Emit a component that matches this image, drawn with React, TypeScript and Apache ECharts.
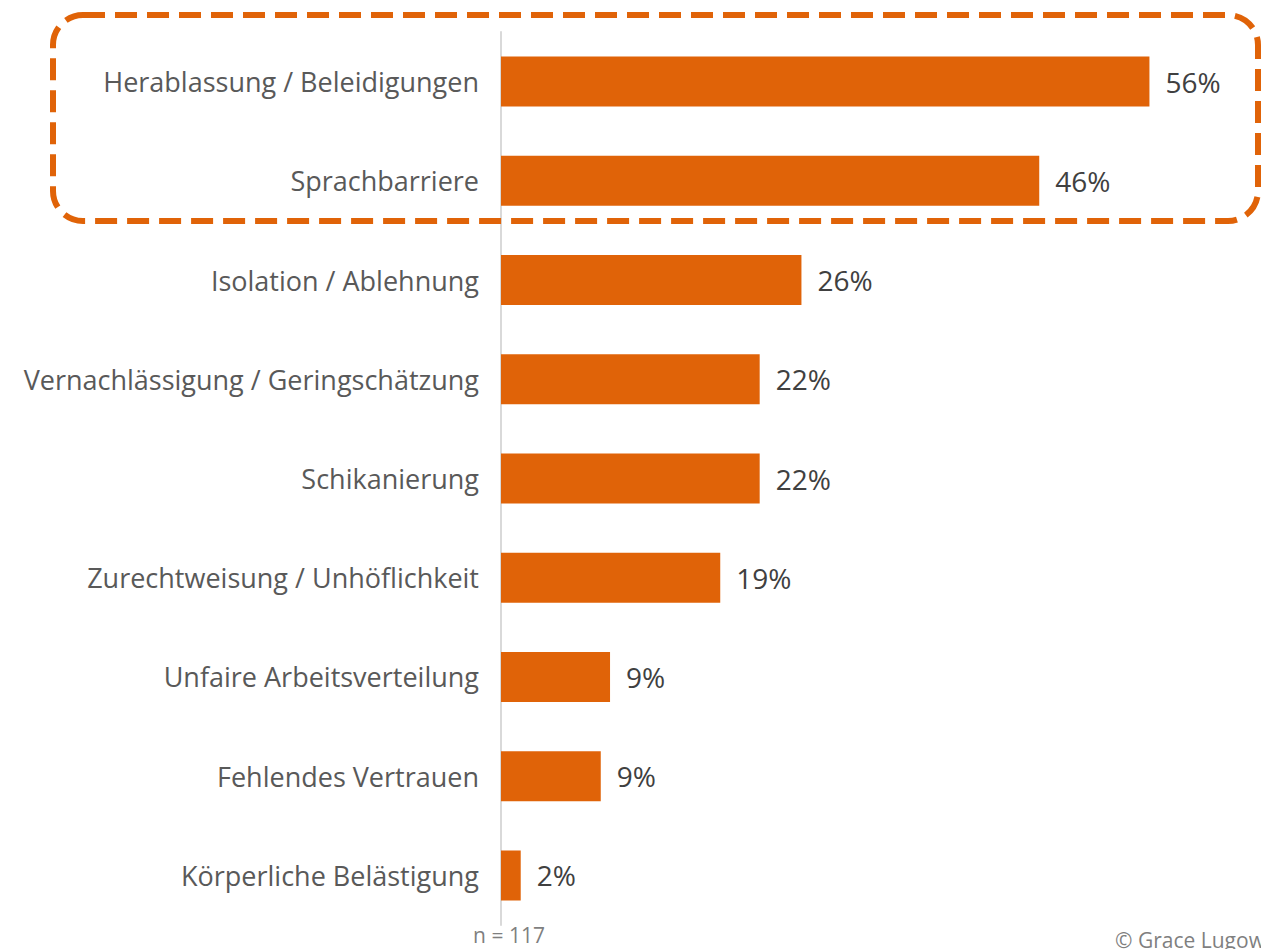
import React, { useEffect, useRef } from "react";
import * as echarts from "echarts";

const categories = [
  "Herablassung / Beleidigungen",
  "Sprachbarriere",
  "Isolation / Ablehnung",
  "Vernachlässigung / Geringschätzung",
  "Schikanierung",
  "Zurechtweisung / Unhöflichkeit",
  "Unfaire Arbeitsverteilung",
  "Fehlendes Vertrauen",
  "Körperliche Belästigung",
];
const values = [55.9, 46.4, 25.9, 22.3, 22.3, 18.9, 9.4, 8.6, 1.7];
const sampleNote = "n = 117";
const credit = "© Grace Lugowski";

const ORANGE = "#E06308";
const FONT = "'Open Sans', 'Noto Sans', sans-serif";

export default function App() {
  const ref = useRef<HTMLDivElement>(null);
  useEffect(() => {
    if (!ref.current) return;
    const chart = echarts.init(ref.current, null, { renderer: "svg" });
    chart.setOption({
      animation: false,
      grid: { left: 501, width: 696, top: 32, height: 893, containLabel: false },
      xAxis: {
        type: "value",
        min: 0,
        max: 60,
        show: false,
      },
      yAxis: {
        type: "category",
        inverse: true,
        data: categories,
        axisLine: { show: true, lineStyle: { color: "#d9d9d9", width: 2 } },
        axisTick: { show: false },
        axisLabel: {
          color: "#595959",
          fontSize: 27,
          fontFamily: FONT,
          margin: 22,
        },
        splitLine: { show: false },
      },
      series: [
        {
          type: "bar",
          data: values,
          barWidth: 50,
          itemStyle: { color: ORANGE },
          label: {
            show: true,
            position: "right",
            distance: 16,
            color: "#404040",
            fontSize: 28,
            fontFamily: FONT,
            formatter: (p: any) => Math.round(p.value) + "%",
          },
        },
      ],
      graphic: [
        {
          type: "rect",
          shape: { x: 53, y: 15, width: 1205, height: 206, r: 30 },
          style: { fill: "none", stroke: ORANGE, lineWidth: 6, lineDash: [22, 10] },
          z: 10,
        },
        {
          type: "text",
          x: 509,
          y: 935,
          style: {
            text: sampleNote,
            fill: "#7f7f7f",
            fontSize: 21,
            fontFamily: FONT,
            textAlign: "center",
            textVerticalAlign: "middle",
          },
        },
        {
          type: "text",
          x: 1115,
          y: 940,
          style: {
            text: credit,
            fill: "#7f7f7f",
            fontSize: 21,
            fontFamily: FONT,
            textAlign: "left",
            textVerticalAlign: "middle",
          },
        },
      ],
    });
    return () => chart.dispose();
  }, []);
  return (
    <div
      ref={ref}
      style={{ position: "fixed", left: 0, top: 0, width: 1261, height: 949, background: "#fff" }}
    />
  );
}
